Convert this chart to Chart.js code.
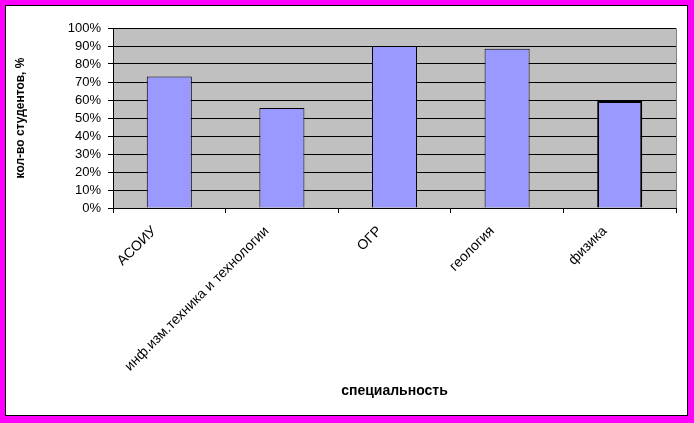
<!DOCTYPE html>
<html lang="ru">
<head>
    <meta charset="UTF-8">
    <title>Специальности</title>
    <script src="https://cdn.jsdelivr.net/npm/chart.js"></script>
    <style>
        body { margin: 0; background: #fff; }
    </style>
</head>
<body>
    <canvas id="chart" width="694" height="423"></canvas>

    <script>
        const categories = ['АСОИУ', 'инф.изм.техника и технологии', 'ОГР', 'геология', 'физика'];
        const percents = [73, 55.5, 90, 88.5, 59.5];
        const yTicks = [0, 10, 20, 30, 40, 50, 60, 70, 80, 90, 100];

        const frame = {
            id: 'frame',
            beforeDraw(chart) {
                const c = chart.ctx;
                const a = chart.chartArea;
                c.save();
                c.fillStyle = '#ff00ff';
                c.fillRect(0, 0, chart.width, chart.height);
                c.fillStyle = '#ffffff';
                c.fillRect(5, 5, chart.width - 11, chart.height - 12);
                c.strokeStyle = '#000';
                c.lineWidth = 1;
                c.strokeRect(5.5, 5.5, chart.width - 12, chart.height - 13);
                c.fillStyle = '#c0c0c0';
                c.fillRect(a.left, a.top, a.right - a.left, a.bottom - a.top);
                c.strokeStyle = '#808080';
                c.beginPath();
                c.moveTo(a.left, a.top + 0.5);
                c.lineTo(a.right + 0.5, a.top + 0.5);
                c.lineTo(a.right + 0.5, a.bottom);
                c.stroke();
                c.restore();
            }
        };

        new Chart(document.getElementById('chart'), {
            type: 'bar',
            data: {
                labels: categories,
                datasets: [{
                    data: percents,
                    backgroundColor: '#9999ff',
                    borderColor: '#000',
                    borderWidth: [1, 1, 1, 1, 2],
                    categoryPercentage: 1,
                    barPercentage: 0.4
                }]
            },
            options: {
                responsive: false,
                animation: false,
                layout: { padding: { left: 0, top: 28, right: 18, bottom: 0 } },
                plugins: {
                    legend: { display: false },
                    tooltip: { enabled: false }
                },
                scales: {
                    x: {
                        afterFit(s) { s.height = 215; },
                        grid: {
                            offset: true,
                            drawOnChartArea: false,
                            color: '#000',
                            tickLength: 5
                        },
                        border: { color: '#000' },
                        ticks: {
                            color: '#000',
                            font: { family: 'Liberation Sans, Arial', size: 14 },
                            minRotation: 45,
                            maxRotation: 45,
                            autoSkip: false,
                            labelOffset: -15,
                            padding: 10
                        },
                        title: {
                            display: true,
                            text: 'специальность',
                            color: '#000',
                            font: { family: 'Liberation Sans, Arial', size: 14, weight: 'bold' },
                            padding: { top: 0, bottom: 23 }
                        }
                    },
                    y: {
                        min: 0,
                        max: 100,
                        afterFit(s) { s.width = 113; },
                        afterBuildTicks(s) { s.ticks = yTicks.map(v => ({ value: v })); },
                        grid: { color: '#000', tickLength: 5 },
                        border: { color: '#000' },
                        ticks: {
                            color: '#000',
                            font: { family: 'Liberation Sans, Arial', size: 13 },
                            autoSkip: false,
                            padding: 7,
                            callback: v => v + '%'
                        },
                        title: {
                            display: true,
                            text: 'кол-во студентов, %',
                            color: '#000',
                            font: { family: 'Liberation Sans, Arial', size: 12, weight: 'bold' },
                            padding: { top: 13, bottom: 0 }
                        }
                    }
                }
            },
            plugins: [frame]
        });
    </script>
</body>
</html>
